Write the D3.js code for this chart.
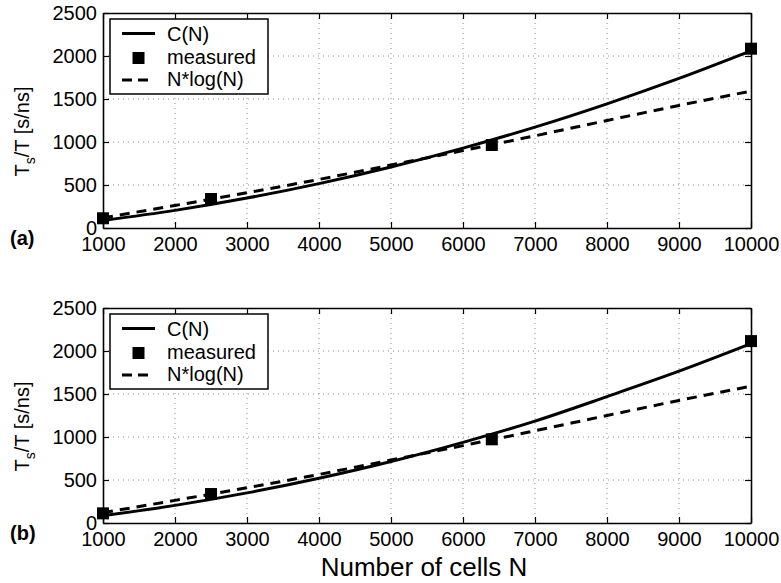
<!DOCTYPE html>
<html>
<head>
<meta charset="utf-8">
<script src="https://cdn.jsdelivr.net/npm/d3@7"></script>
<style>
  html, body { margin: 0; padding: 0; background: #fff; }
  svg { display: block; font-family: "Liberation Sans", Arial, Helvetica, sans-serif; }
</style>
</head>
<body>
<svg id="chart" width="781" height="583"></svg>
<script>
// ---- data ----
const cellsN = [1000, 2000, 3000, 4000, 5000, 6000, 7000, 8000, 9000, 10000];
const cTop = [88, 205, 348, 516, 710, 929, 1173, 1444, 1739, 2060];
const nlogTop = [118, 262, 410, 565, 732, 900, 1072, 1250, 1425, 1592];
const cBottom = [85, 205, 350, 520, 715, 938, 1185, 1470, 1765, 2085];
const nlogBottom = [120, 263, 410, 565, 732, 900, 1072, 1250, 1425, 1590];
const measuredN = [1000, 2500, 6400, 10000];
const measuredTop = [113, 337, 965, 2085];
const measuredBottom = [112, 337, 973, 2115];
const xTicks = [1000, 2000, 3000, 4000, 5000, 6000, 7000, 8000, 9000, 10000];
const yTicks = [0, 500, 1000, 1500, 2000, 2500];
const legendLabels = ["C(N)", "measured", "N*log(N)"];
const panelLabels = ["(a)", "(b)"];

const svg = d3.select("#chart");
const left = 103, right = 751;
const panels = [
  { top: 13, bottom: 228, c: cTop, nlog: nlogTop, meas: measuredTop, label: panelLabels[0] },
  { top: 308, bottom: 523, c: cBottom, nlog: nlogBottom, meas: measuredBottom, label: panelLabels[1] }
];

const x = d3.scaleLinear().domain([1000, 10000]).range([left, right]);

panels.forEach(p => {
  const y = d3.scaleLinear().domain([0, 2500]).range([p.bottom, p.top]);
  const g = svg.append("g");

  // grid
  g.append("g").selectAll("line").data(xTicks.slice(1, -1)).join("line")
    .attr("x1", d => x(d)).attr("x2", d => x(d))
    .attr("y1", p.top).attr("y2", p.bottom)
    .attr("stroke", "#8a8a8a").attr("stroke-width", 1).attr("stroke-dasharray", "1,4");
  g.append("g").selectAll("line").data(yTicks.slice(1, -1)).join("line")
    .attr("x1", left).attr("x2", right)
    .attr("y1", d => y(d)).attr("y2", d => y(d))
    .attr("stroke", "#8a8a8a").attr("stroke-width", 1).attr("stroke-dasharray", "1,4");

  // axes
  const fmt = d3.format("d");
  const ax = g.append("g").attr("transform", `translate(0,${p.bottom})`)
    .call(d3.axisBottom(x).tickValues(xTicks).tickFormat(fmt).tickSizeInner(-6).tickSizeOuter(0).tickPadding(9));
  const ay = g.append("g").attr("transform", `translate(${left},0)`)
    .call(d3.axisLeft(y).tickValues(yTicks).tickFormat(fmt).tickSizeInner(-6).tickSizeOuter(0).tickPadding(6));
  const at = g.append("g").attr("transform", `translate(0,${p.top})`)
    .call(d3.axisTop(x).tickValues(xTicks).tickFormat("").tickSizeInner(-6).tickSizeOuter(0));
  const ar = g.append("g").attr("transform", `translate(${right},0)`)
    .call(d3.axisRight(y).tickValues(yTicks).tickFormat("").tickSizeInner(-6).tickSizeOuter(0));
  [ax, ay, at, ar].forEach(a => {
    a.selectAll(".domain").attr("stroke", "#000").attr("stroke-width", 1.6);
    a.selectAll(".tick line").attr("stroke", "#000").attr("stroke-width", 1.2);
    a.selectAll("text").attr("font-size", 20).attr("fill", "#000")
      .attr("font-family", "'Liberation Sans', Arial, Helvetica, sans-serif");
  });

  // lines
  const line = (vals) => d3.line().x((d, i) => x(cellsN[i])).y(d => y(d)).curve(d3.curveMonotoneX)(vals);
  g.append("path").attr("d", line(p.nlog)).attr("fill", "none")
    .attr("stroke", "#000").attr("stroke-width", 3).attr("stroke-dasharray", "10,7");
  g.append("path").attr("d", line(p.c)).attr("fill", "none")
    .attr("stroke", "#000").attr("stroke-width", 3);

  // markers
  const ms = 12;
  g.append("g").selectAll("rect").data(p.meas).join("rect")
    .attr("x", (d, i) => x(measuredN[i]) - ms / 2)
    .attr("y", d => y(d) - ms / 2)
    .attr("width", ms).attr("height", ms).attr("fill", "#000");

  // legend
  const lg = g.append("g").attr("transform", `translate(0,${p.top - 13})`);
  lg.append("rect").attr("x", 110).attr("y", 19).attr("width", 158).attr("height", 75)
    .attr("fill", "#fff").attr("stroke", "#000").attr("stroke-width", 1.5);
  lg.append("line").attr("x1", 122).attr("x2", 155).attr("y1", 33.5).attr("y2", 33.5)
    .attr("stroke", "#000").attr("stroke-width", 3);
  lg.append("rect").attr("x", 138.5 - ms / 2).attr("y", 58 - ms / 2).attr("width", ms).attr("height", ms)
    .attr("fill", "#000");
  lg.append("line").attr("x1", 122).attr("x2", 148).attr("y1", 80).attr("y2", 80)
    .attr("stroke", "#000").attr("stroke-width", 3).attr("stroke-dasharray", "10,6");
  lg.selectAll("text.lt").data(legendLabels).join("text").attr("class", "lt")
    .attr("x", 167).attr("y", (d, i) => [41, 64, 86][i])
    .attr("font-size", 20).attr("fill", "#000").text(d => d);

  // y title
  const cy = (p.top + p.bottom) / 2 + 11;
  const yt = g.append("text").attr("transform", `translate(28.5,${cy}) rotate(-90)`)
    .attr("text-anchor", "middle").attr("font-size", 20).attr("fill", "#000");
  yt.append("tspan").text("T");
  yt.append("tspan").attr("font-size", 14).attr("dy", 6).text("s");
  yt.append("tspan").attr("dy", -6).text("/T [s/ns]");

  // panel label
  g.append("text").attr("x", 10).attr("y", p.bottom + 17)
    .attr("font-size", 20).attr("font-weight", "bold").attr("fill", "#000").text(p.label);
});

// x title
svg.append("text").attr("x", 424).attr("y", 576).attr("text-anchor", "middle")
  .attr("font-size", 26).attr("fill", "#000").text("Number of cells N");
</script>
</body>
</html>
